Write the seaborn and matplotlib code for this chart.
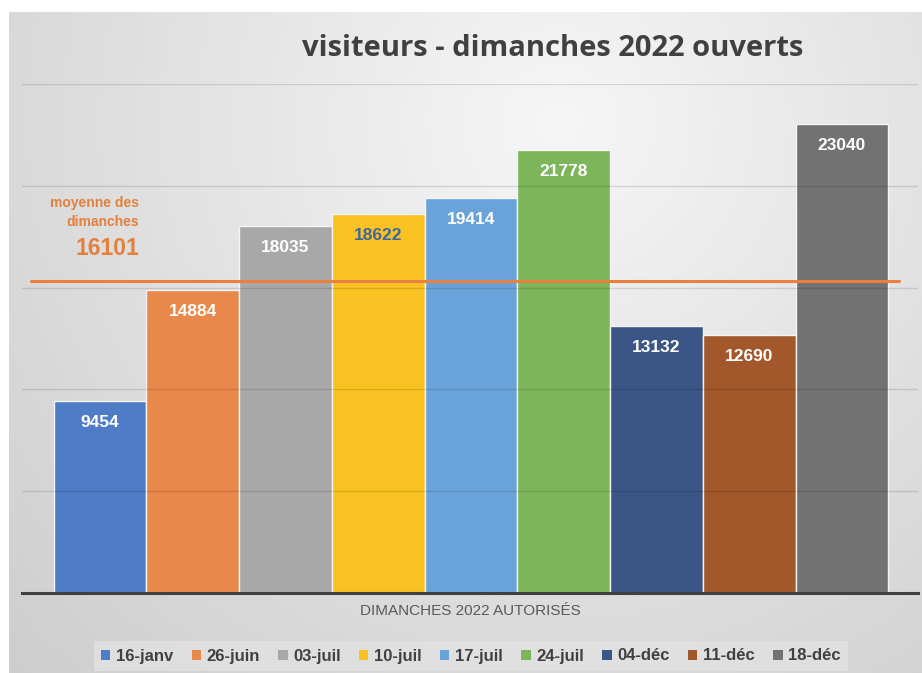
import numpy as np
import pandas as pd
import seaborn as sns
import matplotlib.pyplot as plt
from matplotlib.patches import Patch

# data
dates = ["16-janv", "26-juin", "03-juil", "10-juil", "17-juil",
         "24-juil", "04-déc", "11-déc", "18-déc"]
visitors = [9454, 14884, 18035, 18622, 19414, 21778, 13132, 12690, 23040]
colors = ["#4f7cc6", "#e9884b", "#a8a8a8", "#f9c222", "#6aa3d9",
          "#7db55a", "#3b5686", "#a2582a", "#727272"]
label_colors = ["white", "white", "white", "#41679e", "white",
                "white", "white", "white", "white"]
mean_label = "16101"
mean_line = 15300   # where the drawn line sits in the picture

df = pd.DataFrame({"date": dates, "visiteurs": visitors})

sns.set_theme(style="white")
plt.rcParams["font.family"] = ["Liberation Sans", "DejaVu Sans"]

fig = plt.figure(figsize=(9.22, 6.73), dpi=100)
fig.patch.set_facecolor("white")

# gradient background
bg = fig.add_axes([9 / 922, 0, 1 - 9 / 922, 1 - 12 / 673], zorder=0)
h, w = 661, 913
yy, xx = np.mgrid[0:h, 0:w]
dist = np.sqrt((xx - 550) ** 2 + (yy - 110) ** 2)
shade = np.clip(0.965 - dist * 0.16 / 780, 0.79, 1)
bg.imshow(np.dstack([shade] * 3), aspect="auto", interpolation="bilinear")
bg.axis("off")

ax = fig.add_axes([22 / 922, 80 / 673, 896 / 922, (593 - 84) / 673], zorder=1)
ax.patch.set_alpha(0)

sns.barplot(data=df, x="date", y="visiteurs", hue="date", palette=colors,
            saturation=1, width=1.0, edgecolor="#f4f4f4", linewidth=1,
            legend=False, ax=ax, zorder=2)

ax.set_xlim(-0.84, 8.82)
ax.set_ylim(0, 25000)
for v in range(5000, 25001, 5000):
    ax.axhline(v, color="black", alpha=0.12, lw=1, zorder=3)

for spine in ["top", "right", "left"]:
    ax.spines[spine].set_visible(False)
ax.spines["bottom"].set_color("#404040")
ax.spines["bottom"].set_linewidth(2.2)
ax.spines["bottom"].set_zorder(5)
ax.set_xticks([])
ax.set_yticks([])
ax.set_ylabel("")
ax.set_xlabel("DIMANCHES 2022 AUTORISÉS", fontsize=11, color="#595959",
              labelpad=8)

# value labels
for i, (v, c) in enumerate(zip(visitors, label_colors)):
    ax.annotate(str(v), (i, v), xytext=(0, -22), textcoords="offset pixels",
                ha="center", va="center", color=c, fontsize=12.5,
                fontweight="bold", zorder=6)

# mean line and its note
ax.axhline(mean_line, xmin=0.01, xmax=0.979, color="#e8803f", lw=2.2, zorder=4)
ax.text(0.131, 0.716, "moyenne des\ndimanches", transform=ax.transAxes,
        ha="right", va="bottom", color="#e2803c", fontsize=10,
        fontweight="bold", linespacing=1.45)
ax.text(0.131, 0.655, mean_label, transform=ax.transAxes, ha="right",
        va="bottom", color="#e2803c", fontsize=16.5, fontweight="bold")

fig.text(553 / 922, 1 - 48 / 673, "visiteurs - dimanches 2022 ouverts",
         ha="center", va="center", fontsize=21, fontweight="bold",
         color="#404040", family=["Open Sans", "DejaVu Sans"])

handles = [Patch(facecolor=c, edgecolor="none", label=d)
           for d, c in zip(dates, colors)]
leg = fig.legend(handles=handles, ncol=9, loc="center",
                 bbox_to_anchor=(471 / 922, 1 - 656 / 673), frameon=True,
                 handlelength=0.55, handleheight=0.55, handletextpad=0.35,
                 columnspacing=1.1, borderpad=0.45, fontsize=12)
leg.get_frame().set_facecolor("#e2e2e2")
leg.get_frame().set_edgecolor("none")
leg.get_frame().set_boxstyle("square", pad=0)
for t in leg.get_texts():
    t.set_color("#404040")
    t.set_fontweight("bold")

fig.savefig("out.png", dpi=100)
